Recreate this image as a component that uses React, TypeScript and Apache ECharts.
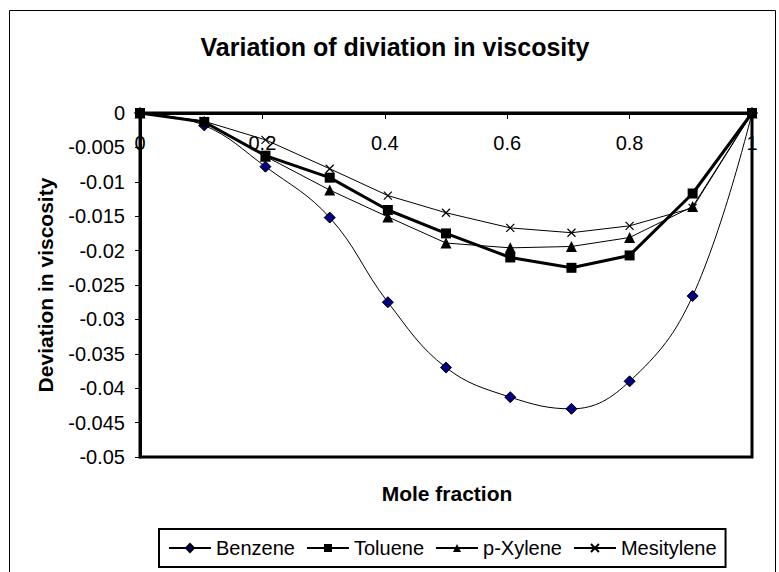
import React, { useEffect, useRef } from "react";
import * as echarts from "echarts";

const moleFraction = [0, 0.105, 0.205, 0.31, 0.405, 0.5, 0.605, 0.705, 0.8, 0.903, 1];
const benzene = [0, -0.0018, -0.0078, -0.0152, -0.0275, -0.037, -0.0413, -0.043, -0.039, -0.0266, 0];
const toluene = [0, -0.0013, -0.0062, -0.0094, -0.0141, -0.0175, -0.021, -0.0225, -0.0207, -0.0117, 0];
const pXylene = [0, -0.0012, -0.0063, -0.0112, -0.0151, -0.0189, -0.0196, -0.0194, -0.0181, -0.0136, 0];
const mesitylene = [0, -0.0012, -0.0039, -0.0081, -0.012, -0.0145, -0.0167, -0.0174, -0.0164, -0.0138, 0];
const seriesNames = ["Benzene", "Toluene", "p-Xylene", "Mesitylene"];
const titleText = "Variation of diviation in viscosity";
const xName = "Mole fraction";
const yName = "Deviation in viscosity";

const FONT = "'Liberation Sans', Arial, sans-serif";

export default function App() {
  const ref = useRef<HTMLDivElement>(null);
  useEffect(() => {
    document.body.style.margin = "0";
    const chart = echarts.init(ref.current!, null, { renderer: "svg" });
    const pair = (ys: number[]) => moleFraction.map((x, i) => [x, ys[i]]);
    chart.setOption({
      animation: false,
      backgroundColor: "#fff",
      textStyle: { fontFamily: FONT },
      graphic: [
        {
          type: "rect",
          silent: true,
          shape: { x: 9.5, y: 10.5, width: 766, height: 600 },
          style: { fill: "none", stroke: "#000", lineWidth: 1 },
        },
        {
          type: "text",
          silent: true,
          x: 395,
          y: 47,
          style: {
            text: titleText,
            fontFamily: FONT,
            fontSize: 25,
            fontWeight: "bold",
            fill: "#000",
            align: "center",
            verticalAlign: "middle",
          },
        },
        {
          type: "text",
          silent: true,
          x: 447,
          y: 493,
          style: {
            text: xName,
            fontFamily: FONT,
            fontSize: 21,
            fontWeight: "bold",
            fill: "#000",
            align: "center",
            verticalAlign: "middle",
          },
        },
        {
          type: "text",
          silent: true,
          x: 45,
          y: 285,
          rotation: Math.PI / 2,
          style: {
            text: yName,
            fontFamily: FONT,
            fontSize: 21,
            fontWeight: "bold",
            fill: "#000",
            align: "center",
            verticalAlign: "middle",
          },
        },
      ],
      grid: {
        left: 140,
        top: 113,
        width: 612,
        height: 344,
        show: true,
        borderColor: "#000",
        borderWidth: 3,
        backgroundColor: "#fff",
        containLabel: false,
        outerBoundsMode: "none",
      },
      legend: {
        data: seriesNames,
        left: 159,
        top: 529,
        orient: "horizontal",
        padding: [9, 9],
        itemGap: 11,
        itemWidth: 42,
        itemHeight: 10,
        borderColor: "#000",
        borderWidth: 2,
        textStyle: { fontSize: 20, color: "#000", fontFamily: FONT },
      },
      xAxis: {
        type: "value",
        position: "top",
        min: 0,
        max: 1,
        interval: 0.2,
        axisLine: { onZero: false, lineStyle: { color: "#000", width: 3 } },
        axisTick: { show: true, inside: true, length: 6, lineStyle: { color: "#000", width: 1 } },
        axisLabel: { inside: true, fontSize: 20, color: "#000", margin: 20, fontFamily: FONT },
        splitLine: { show: false },
      },
      yAxis: {
        type: "value",
        min: -0.05,
        max: 0,
        interval: 0.005,
        axisLine: { show: true, onZero: false, lineStyle: { color: "#000", width: 3 } },
        axisTick: { show: true, inside: false, length: 5, lineStyle: { color: "#000", width: 1 } },
        axisLabel: { fontSize: 20, color: "#000", margin: 15, fontFamily: FONT },
        splitLine: { show: false },
      },
      series: [
        {
          name: seriesNames[0],
          type: "line",
          smooth: 0.4,
          data: pair(benzene),
          symbol: "diamond",
          symbolSize: 11,
          lineStyle: { color: "#000", width: 1 },
          itemStyle: { color: "#000080", borderColor: "#000", borderWidth: 1 },
          z: 2,
        },
        {
          name: seriesNames[1],
          type: "line",
          data: pair(toluene),
          symbol: "rect",
          symbolSize: 10,
          lineStyle: { color: "#000", width: 3 },
          itemStyle: { color: "#000", borderColor: "#000", borderWidth: 0 },
          z: 3,
        },
        {
          name: seriesNames[2],
          type: "line",
          data: pair(pXylene),
          symbol: "triangle",
          symbolSize: 11,
          lineStyle: { color: "#000", width: 1 },
          itemStyle: { color: "#000", borderColor: "#000", borderWidth: 0 },
          z: 4,
        },
        {
          name: seriesNames[3],
          type: "line",
          data: pair(mesitylene),
          symbol: "path://M0,0L10,10M10,0L0,10",
          symbolSize: 8,
          lineStyle: { color: "#000", width: 1 },
          itemStyle: { color: "#000", borderColor: "#000", borderWidth: 1.2 },
          z: 5,
        },
      ],
    });
    return () => chart.dispose();
  }, []);
  return (
    <div
      ref={ref}
      style={{ position: "absolute", left: 0, top: 0, width: 779, height: 572, background: "#fff" }}
    />
  );
}
